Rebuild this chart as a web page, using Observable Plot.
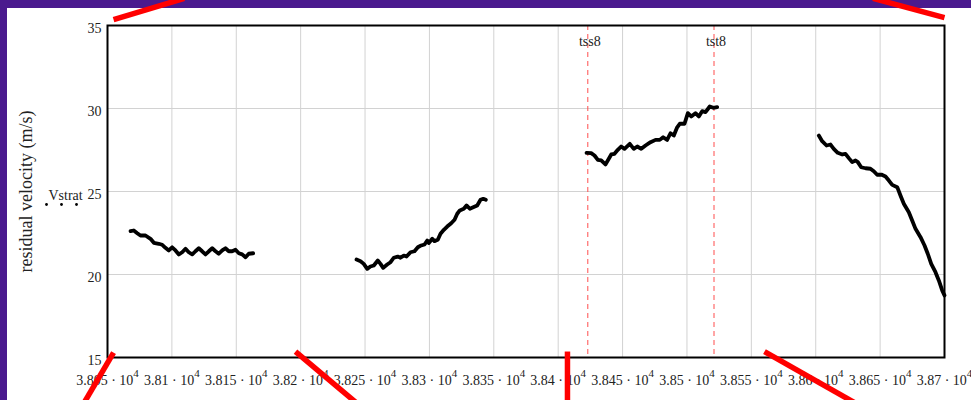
<!DOCTYPE html>
<html>
<head>
<meta charset="utf-8">
<script src="https://cdn.jsdelivr.net/npm/d3@7"></script>
<script src="https://cdn.jsdelivr.net/npm/@observablehq/plot@0.6"></script>
<style>
  html, body { margin: 0; padding: 0; overflow: hidden; }
  body { background: #4a1a8e; padding: 8px 0 0 7px; width: 964px; height: 392px; }
  #chart svg { display: block; overflow: visible; }
</style>
</head>
<body>
<div id="chart"></div>
<script>
// Residual velocity Vstrat (m/s) over time, four recorded stretches
const t1 = [38067.9, 38070.4, 38073.1, 38075.6, 38079.5, 38083.4, 38086.0, 38089.8, 38092.5, 38095.0, 38097.6, 38100.2, 38102.8, 38105.4, 38108.0, 38110.6, 38113.1, 38115.8, 38118.3, 38120.9, 38123.5, 38126.1, 38128.7, 38131.3, 38133.9, 38136.4, 38139.1, 38141.6, 38144.2, 38146.8, 38149.4, 38152.0, 38154.6, 38157.2, 38159.7, 38163.1];
const v1 = [22.61, 22.65, 22.49, 22.35, 22.35, 22.15, 21.91, 21.85, 21.79, 21.61, 21.45, 21.64, 21.45, 21.21, 21.34, 21.55, 21.34, 21.21, 21.40, 21.58, 21.40, 21.21, 21.40, 21.58, 21.40, 21.25, 21.45, 21.58, 21.40, 21.40, 21.49, 21.28, 21.21, 21.04, 21.25, 21.28];

const t2 = [38243.4, 38246.5, 38249.0, 38251.7, 38254.2, 38256.8, 38259.9, 38262.0, 38264.1, 38267.2, 38269.8, 38272.3, 38275.4, 38277.5, 38280.1, 38282.2, 38285.3, 38288.4, 38291.0, 38293.6, 38296.2, 38298.3, 38299.5, 38302.2, 38303.9, 38306.5, 38308.6, 38311.2, 38313.8, 38316.9, 38319.5, 38321.6, 38323.6, 38326.7, 38328.8, 38331.4, 38334.0, 38337.1, 38339.7, 38341.8, 38343.8];
const v2 = [20.90, 20.80, 20.64, 20.34, 20.48, 20.54, 20.84, 20.64, 20.40, 20.60, 20.74, 21.01, 21.08, 21.01, 21.14, 21.08, 21.34, 21.40, 21.64, 21.75, 21.81, 22.05, 21.89, 22.15, 22.01, 22.09, 22.45, 22.69, 22.89, 23.09, 23.30, 23.66, 23.86, 23.96, 24.16, 23.96, 24.05, 24.16, 24.50, 24.56, 24.50];

const t3 = [38422.0, 38425.6, 38428.2, 38430.8, 38433.4, 38436.7, 38439.3, 38441.2, 38443.7, 38446.3, 38448.9, 38451.5, 38455.6, 38458.7, 38461.4, 38464.5, 38467.8, 38471.7, 38475.6, 38478.9, 38481.5, 38484.6, 38487.2, 38489.8, 38492.4, 38494.4, 38498.1, 38500.7, 38503.3, 38506.6, 38509.2, 38511.8, 38514.4, 38517.7, 38520.4, 38523.5];
const v3 = [27.33, 27.31, 27.17, 26.91, 26.87, 26.63, 26.97, 27.23, 27.27, 27.51, 27.71, 27.57, 27.87, 27.57, 27.71, 27.57, 27.77, 27.97, 28.11, 28.11, 28.27, 28.11, 28.51, 28.37, 28.87, 29.08, 29.08, 29.72, 29.52, 29.72, 29.52, 29.84, 29.78, 30.12, 30.04, 30.08];

const t4 = [38602.4, 38605.0, 38608.4, 38611.5, 38614.0, 38617.1, 38620.6, 38623.1, 38625.7, 38628.3, 38630.9, 38632.7, 38635.3, 38638.7, 38642.5, 38645.1, 38647.7, 38650.9, 38654.2, 38656.8, 38659.4, 38663.3, 38665.8, 38668.4, 38672.3, 38674.9, 38677.5, 38681.4, 38684.5, 38687.0, 38689.7, 38693.0, 38695.6, 38698.2, 38700.0];
const v4 = [28.37, 28.03, 27.77, 27.83, 27.57, 27.33, 27.23, 27.27, 27.01, 26.77, 26.87, 26.77, 26.46, 26.40, 26.37, 26.22, 26.01, 26.02, 25.90, 25.66, 25.40, 25.26, 24.76, 24.26, 23.75, 23.25, 22.75, 22.25, 21.75, 21.25, 20.64, 20.14, 19.64, 19.04, 18.74];

// Event markers
const eventTimes = [38423, 38521];
const eventNames = ["tss8", "tst8"];

// Axis ticks
const xTicks = d3.range(38050, 38701, 50);
const yTicks = [15, 20, 25, 30, 35];

// Red strike marks, as [start, end] pairs in chart units
const strikeT = [[38054.7, 38109.6], [38644.5, 38700.0], [38054.7, 38030.6], [38196.0, 38245.7], [38407.2, 38407.2], [38560.2, 38634.0]];
const strikeV = [[35.36, 36.63], [36.63, 35.48], [15.30, 12.11], [15.36, 12.11], [15.36, 12.11], [15.36, 12.11]];

const series = [[t1, v1], [t2, v2], [t3, v3], [t4, v4]];
const rows = series.flatMap(([t, v], k) => t.map((ti, i) => ({seg: k, t: ti, v: v[i]})));
const strikes = strikeT.flatMap((pair, k) => pair.map((ti, i) => ({id: k, t: ti, v: strikeV[k][i]})));

// Mantissa, then the power of ten; the exponent is raised afterwards
const fmt = d => `${+(d / 1e4).toFixed(4)} · 10^4`;
const ink = "#222";

const chart = Plot.plot({
  width: 964,
  height: 392,
  marginLeft: 100,
  marginRight: 27,
  marginTop: 17,
  marginBottom: 43,
  style: {background: "white", fontFamily: "'Liberation Serif', serif", fontSize: "14px", color: ink, overflow: "visible"},
  x: {domain: [38050, 38700], label: null},
  y: {domain: [15, 35], label: null},
  marks: [
    Plot.gridX(xTicks, {stroke: "#d2d2d2", strokeOpacity: 1}),
    Plot.gridY(yTicks, {stroke: "#d2d2d2", strokeOpacity: 1}),
    Plot.axisX(xTicks, {tickSize: 0, tickPadding: 18, tickFormat: fmt, label: null, fontSize: 14}),
    Plot.axisY(yTicks, {tickSize: 0, tickPadding: 6, dy: 3, label: null, fontSize: 14}),
    Plot.ruleX(eventTimes, {stroke: "#ff4d4d", strokeWidth: 1, strokeDasharray: "5,4"}),
    Plot.text(eventNames, {x: eventTimes, text: d => d, frameAnchor: "top", dy: 11, dx: 2, fill: ink, fontSize: 14}),
    Plot.line(rows, {x: "t", y: "v", z: "seg", stroke: "black", strokeWidth: 3.8, strokeLinejoin: "round", strokeLinecap: "round"}),
    Plot.frame({stroke: "black", strokeWidth: 2}),
    Plot.text(["Vstrat"], {text: d => d, frameAnchor: "left", textAnchor: "start", dx: -59, dy: 4, fill: ink, fontSize: 14}),
    ...[-61, -46, -31].map(dx => Plot.dot([null], {frameAnchor: "left", dx, dy: 13, r: 1.4, fill: "black", stroke: null})),
    Plot.text(["residual velocity (m/s)"], {text: d => d, frameAnchor: "left", textAnchor: "middle", rotate: -90, dx: -81, fill: ink, fontSize: 18}),
    Plot.line(strikes, {x: "t", y: "v", z: "id", stroke: "#ff0000", strokeWidth: 5.5, strokeLinecap: "butt", clip: false})
  ]
});

// Typeset "10^4" with a raised, smaller exponent
const svgNS = "http://www.w3.org/2000/svg";
chart.querySelectorAll("text").forEach(node => {
  const s = node.textContent;
  const k = s.indexOf("^");
  if (k < 0) return;
  node.textContent = s.slice(0, k);
  const sup = document.createElementNS(svgNS, "tspan");
  sup.setAttribute("dy", "-8");
  sup.setAttribute("font-size", "11");
  sup.textContent = s.slice(k + 1);
  node.append(sup);
});

document.getElementById("chart").append(chart);
</script>
</body>
</html>
